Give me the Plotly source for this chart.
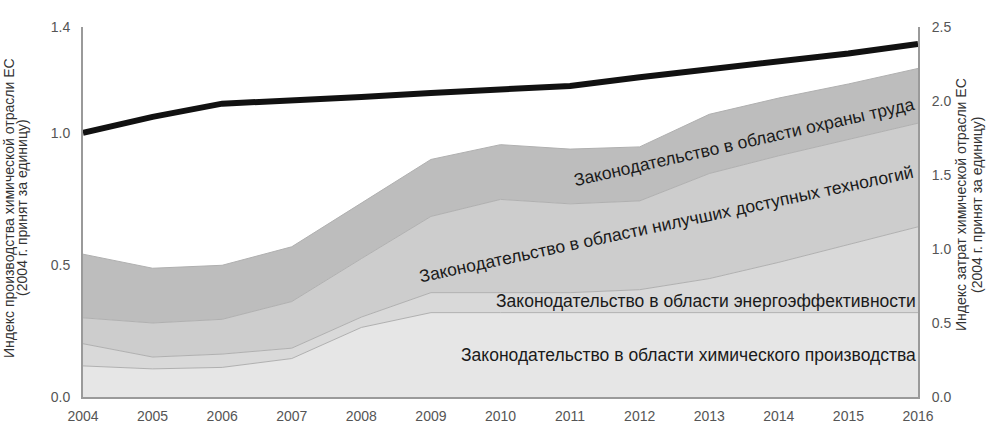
import plotly.graph_objects as go

years = list(range(2004, 2017))
production_index = [1.00, 1.06, 1.11, 1.12, 1.135, 1.15, 1.163, 1.177, 1.21, 1.24, 1.27, 1.30, 1.336]

chem_law = [0.21, 0.19, 0.20, 0.26, 0.47, 0.57, 0.57, 0.57, 0.57, 0.57, 0.57, 0.57, 0.57]
energy_law = [0.15, 0.08, 0.09, 0.07, 0.07, 0.135, 0.135, 0.135, 0.155, 0.23, 0.34, 0.46, 0.58]
bat_law = [0.175, 0.23, 0.235, 0.315, 0.395, 0.515, 0.63, 0.60, 0.60, 0.71, 0.72, 0.71, 0.70]
safety_law = [0.43, 0.37, 0.365, 0.37, 0.375, 0.385, 0.37, 0.37, 0.365, 0.40, 0.39, 0.375, 0.37]

layer_names = [
    "Законодательство в области химического производства",
    "Законодательство в области энергоэффективности",
    "Законодательство в области нилучших доступных технологий",
    "Законодательство в области охраны труда",
]
layer_values = [chem_law, energy_law, bat_law, safety_law]
layer_colors = ["#e6e6e6", "#d9d9d9", "#cdcdcd", "#bdbdbd"]

left_title_lines = ["Индекс производства химической отрасли ЕС", "(2004 г. принят за единицу)"]
right_title_lines = ["Индекс затрат химической отрасли ЕС", "(2004 г. принят за единицу)"]

fig = go.Figure()

for name, vals, col in zip(layer_names, layer_values, layer_colors):
    fig.add_trace(go.Scatter(
        x=years, y=vals, name=name, mode="lines", stackgroup="costs",
        fillcolor=col, line=dict(color="#b0b0b0", width=1),
        yaxis="y2", hoverinfo="skip",
    ))

fig.add_trace(go.Scatter(
    x=years, y=production_index, mode="lines", name="Индекс производства",
    line=dict(color="#111111", width=6), yaxis="y",
))

tick_font = dict(family="Liberation Sans Narrow, Liberation Sans, Arial, sans-serif", size=14, color="#555555")

fig.update_layout(
    width=991, height=428,
    margin=dict(l=83, r=73, t=27, b=31, autoexpand=False),
    paper_bgcolor="white", plot_bgcolor="white",
    showlegend=False,
    font=dict(family="Liberation Sans, Arial, sans-serif", color="#222222"),
    xaxis=dict(
        range=[2004, 2016], tickvals=years, ticktext=[str(y) for y in years],
        showgrid=False, zeroline=False, showline=True, linecolor="#9a9a9a", linewidth=2,
        ticks="", ticklabelstandoff=5, tickfont=tick_font, automargin=False,
    ),
    yaxis=dict(
        range=[0, 1.4], tickvals=[0, 0.5, 1.0, 1.4], ticktext=["0.0", "0.5", "1.0", "1.4"],
        showgrid=False, zeroline=False, showline=True, linecolor="#9a9a9a", linewidth=2,
        ticks="", ticklabelstandoff=8, tickfont=tick_font, automargin=False,
    ),
    yaxis2=dict(
        range=[0, 2.5], tickvals=[0, 0.5, 1.0, 1.5, 2.0, 2.5],
        ticktext=["0.0", "0.5", "1.0", "1.5", "2.0", "2.5"],
        overlaying="y", side="right",
        showgrid=False, zeroline=False, showline=True, linecolor="#9a9a9a", linewidth=2,
        ticks="", ticklabelstandoff=9, tickfont=tick_font, automargin=False,
    ),
)

ann_font = dict(family="Liberation Sans, Arial, sans-serif", size=17.5, color="#1a1a1a")
# layer labels placed in data coordinates (x in years, y on cost axis)
fig.add_annotation(x=2013.5, y=1.72, xref="x", yref="y2", text=layer_names[3],
                   textangle=-12.7, xanchor="center", yanchor="middle",
                   showarrow=False, font=ann_font)
fig.add_annotation(x=2012.39, y=1.17, xref="x", yref="y2", text=layer_names[2],
                   textangle=-12, xanchor="center", yanchor="middle",
                   showarrow=False, font=ann_font)
fig.add_annotation(x=2016, y=0.652, xref="x", yref="y2", text=layer_names[1],
                   xanchor="right", yanchor="middle", showarrow=False, font=ann_font)
fig.add_annotation(x=2016, y=0.282, xref="x", yref="y2", text=layer_names[0],
                   xanchor="right", yanchor="middle", showarrow=False, font=ann_font)

title_font = dict(family="Liberation Sans Narrow, Liberation Sans, Arial, sans-serif", size=14, color="#333333")
for txt, px in zip(left_title_lines, [-0.0886, -0.0731]):
    fig.add_annotation(x=px, y=0.511, xref="paper", yref="paper", text=txt,
                       textangle=-90, xanchor="center", yanchor="middle",
                       showarrow=False, font=title_font)
for txt, px in zip(right_title_lines, [1.0515, 1.0707]):
    fig.add_annotation(x=px, y=0.519, xref="paper", yref="paper", text=txt,
                       textangle=-90, xanchor="center", yanchor="middle",
                       showarrow=False, font=title_font)

fig.write_html("out.html", config={"displayModeBar": False},
               post_script="document.body.style.margin='0px';")
